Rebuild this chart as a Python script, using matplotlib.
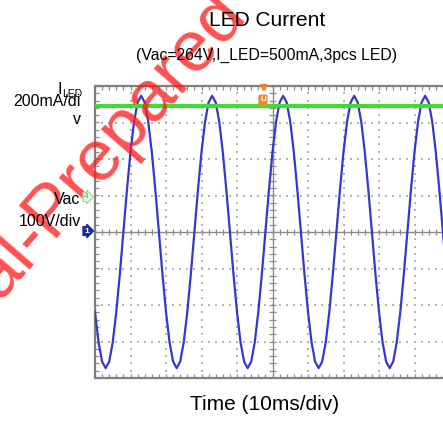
import matplotlib
matplotlib.use("Agg")
import matplotlib.pyplot as plt
import numpy as np
from matplotlib.collections import LineCollection

plt.rcParams['font.family'] = ['Liberation Sans', 'DejaVu Sans']

# ---------------- data ----------------
time_ms = list(range(0, 101))          # 10 ms/div, 10 divisions
vac_volts = [
    -219, -302, -355, -373, -355, -302, -219, -115, 0, 115,
    219, 302, 355, 373, 355, 302, 219, 115, 0, -115,
    -219, -302, -355, -373, -355, -302, -219, -115, 0, 115,
    219, 302, 355, 373, 355, 302, 219, 115, 0, -115,
    -219, -302, -355, -373, -355, -302, -219, -115, 0, 115,
    219, 302, 355, 373, 355, 302, 219, 115, 0, -115,
    -219, -302, -355, -373, -355, -302, -219, -115, 0, 115,
    219, 302, 355, 373, 355, 302, 219, 115, 0, -115,
    -219, -302, -355, -373, -355, -302, -219, -115, 0, 115,
    219, 302, 355, 373, 355, 302, 219, 115, 0, -115,
    -219,
]
iled_time_ms = [0, 100]
iled_ma = [500, 500]

vac_scale = 100.0     # V/div
iled_scale = 200.0    # mA/div
ch1_offset = 0.0      # div
ch4_offset = 0.95     # div
trigger_ms = 47.3

title = "LED Current"
subtitle = "(Vac=264V,I_LED=500mA,3pcs LED)"
xlabel = "Time (10ms/div)"

# ---------------- figure ----------------
W, H = 443, 421
fig = plt.figure(figsize=(W / 100, H / 100), dpi=100)
L, T, R, B = 95, 86, 450, 378
ax = fig.add_axes([L / W, 1 - B / H, (R - L) / W, (B - T) / H])
ax.set_xlim(0, 100)
ax.set_ylim(-4, 4)
ax.set_xticks([])
ax.set_yticks([])
for s in ax.spines.values():
    s.set_color('#808080')
    s.set_linewidth(1.6)

gcol = '#b4b4b4'
# dotted grid
dx, dy = [], []
for i in range(1, 10):
    if i == 5:
        continue
    for yy in np.arange(-4, 4.01, 0.2):
        dx.append(i * 10); dy.append(yy)
for j in range(-3, 4):
    if j == 0:
        continue
    for xx in np.arange(0, 100.01, 2):
        dx.append(xx); dy.append(j)
ax.scatter(dx, dy, s=1.5, color=gcol, marker='s', linewidths=0, zorder=1)

# center cross
ax.axvline(50, color='#8c8c8c', lw=1.0, zorder=1)
ax.axhline(0, color='#8c8c8c', lw=1.0, zorder=1)
segs = []
for yy in np.arange(-4, 4.01, 0.2):
    segs.append([(50 - 0.9, yy), (50 + 0.9, yy)])
    segs.append([(0, yy), (1.1, yy)])
for xx in np.arange(0, 100.01, 2):
    segs.append([(xx, -0.08), (xx, 0.08)])
    segs.append([(xx, 4), (xx, 3.88)])
    segs.append([(xx, -4), (xx, -3.88)])
ax.add_collection(LineCollection(segs, colors='#8c8c8c', linewidths=0.9, zorder=1))

# traces
ax.plot(time_ms, [ch1_offset + v / vac_scale for v in vac_volts],
        color='#3636d2', lw=1.6, zorder=3)
ax.plot(iled_time_ms, [ch4_offset + i / iled_scale for i in iled_ma],
        color='#3ddc2e', lw=3.0, zorder=4)

# trigger marker
ax.plot([trigger_ms], [3.98], marker='v', color='#f08020', ms=4, clip_on=False, zorder=5)
ax.text(trigger_ms, 3.62, 'U', color='white', fontsize=5.5, fontweight='bold',
        ha='center', va='center', zorder=5,
        bbox=dict(boxstyle='round,pad=0.15', fc='#f08a2a', ec='#f08a2a'))

# watermark (under the texts, over the scope screen)
wx, wy = 1 / W, 1 - 303 / H
wm = dict(fontsize=52, color='#ff1a1a', alpha=0.76, rotation=49,
          rotation_mode='anchor', va='baseline', zorder=2)
fig.text(wx, wy, 'Confidenti', ha='right', **wm)
fig.text(wx, wy, 'al-Prepared for', ha='left', **wm)

# channel markers
fig.text(84 / W, 1 - 231 / H, '1', color='white', fontsize=6, fontweight='bold',
         ha='left', va='center', zorder=5,
         bbox=dict(boxstyle='rarrow,pad=0.12', fc='#1c2c9c', ec='#1c2c9c'))
fig.text(84 / W, 1 - 197 / H, '4', color='#4caf4c', fontsize=6,
         ha='left', va='center', zorder=5,
         bbox=dict(boxstyle='rarrow,pad=0.12', fc='#eaf8ea', ec='#8fd48f', lw=0.8))

# texts
tz = dict(zorder=5)
fig.text(267 / W, 1 - 20 / H, title, fontsize=15, ha='center', va='center', **tz)
fig.text(266 / W, 1 - 55 / H, subtitle, fontsize=11.3, ha='center', va='center', **tz)
fig.text(265 / W, 1 - 405 / H, xlabel, fontsize=15, ha='center', va='center', **tz)

fig.text(62 / W, 1 - 90 / H, 'I', fontsize=12, ha='right', va='center', **tz)
fig.text(62 / W, 1 - 94 / H, 'LED', fontsize=7.5, ha='left', va='center', **tz)
fig.text(81 / W, 1 - 102 / H, '200mA/di', fontsize=11.5, ha='right', va='center', **tz)
fig.text(81 / W, 1 - 120 / H, 'v', fontsize=11.5, ha='right', va='center', **tz)
fig.text(80 / W, 1 - 199 / H, 'Vac', fontsize=11.5, ha='right', va='center', **tz)
fig.text(81 / W, 1 - 221 / H, '100V/div', fontsize=11.5, ha='right', va='center', **tz)

fig.savefig('out.png', dpi=100)
